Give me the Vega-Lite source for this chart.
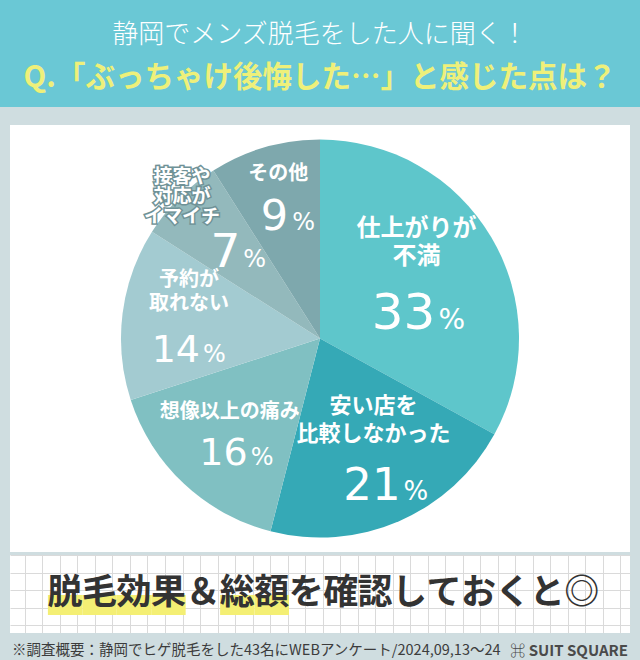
{
  "$schema": "https://vega.github.io/schema/vega-lite/v6.json",
  "background": "#cfdde0",
  "padding": 0,
  "spacing": 11,
  "center": true,
  "config": {"view": {"stroke": null}, "font": "Noto Sans CJK JP"},
  "vconcat": [
    {
      "width": 640,
      "height": 107,
      "view": {"fill": "#6ac8d5", "stroke": null},
      "data": {"values": [{"t1": "静岡でメンズ脱毛をした人に聞く！", "t2": "Q.「ぶっちゃけ後悔した…」と感じた点は？"}]},
      "layer": [
        {"mark": {"type": "text", "font": "Noto Sans CJK JP", "fontSize": 26, "fontWeight": 300, "color": "#ffffff", "baseline": "middle", "dy": -19}, "encoding": {"text": {"field": "t1"}}},
        {"mark": {"type": "text", "font": "Noto Sans CJK JP", "fontSize": 29.5, "fontWeight": "bold", "color": "#eef07a", "baseline": "middle", "dy": 24}, "encoding": {"text": {"field": "t2"}}}
      ]
    },
    {
      "spacing": 0,
      "center": true,
      "vconcat": [
        {
          "width": 620,
          "height": 427,
          "view": {"fill": "#ffffff", "stroke": null},
          "data": {"values": [
            {"order": 1, "label": "仕上がりが\n不満", "value": 33},
            {"order": 2, "label": "安い店を\n比較しなかった", "value": 21},
            {"order": 3, "label": "想像以上の痛み", "value": 16},
            {"order": 4, "label": "予約が\n取れない", "value": 14},
            {"order": 5, "label": "接客や\n対応が\nイマイチ", "value": 7},
            {"order": 6, "label": "その他", "value": 9}
          ]},
          "encoding": {
            "theta": {"field": "value", "type": "quantitative", "stack": true},
            "order": {"field": "order", "type": "quantitative"}
          },
          "layer": [
            {"mark": {"type": "arc", "radius": 199}, "encoding": {"color": {"field": "order", "type": "ordinal", "scale": {"domain": [1, 2, 3, 4, 5, 6], "range": ["#5ec6cb", "#35a9b6", "#80c0c2", "#a3cbd1", "#93b9bc", "#7ea8ad"]}, "legend": null}}},

            {"mark": {"type": "text", "radius": 112, "baseline": "bottom", "dy": -40, "lineBreak": "\n", "lineHeight": 28, "fontSize": 24, "fontWeight": "bold", "color": "#ffffff", "font": "Noto Sans CJK JP"}, "encoding": {"text": {"field": "label"}, "opacity": {"condition": {"test": "datum.order == 1", "value": 1}, "value": 0}}},
            {"mark": {"type": "text", "radius": 112, "baseline": "alphabetic", "align": "right", "dx": 19, "dy": 48, "fontSize": 50, "font": "DejaVu Sans", "color": "#ffffff"}, "encoding": {"text": {"field": "value", "type": "quantitative"}, "opacity": {"condition": {"test": "datum.order == 1", "value": 1}, "value": 0}}},
            {"mark": {"type": "text", "radius": 112, "baseline": "alphabetic", "align": "left", "dx": 22, "dy": 48, "fontSize": 28, "font": "DejaVu Sans", "color": "#ffffff"}, "encoding": {"text": {"value": "%"}, "opacity": {"condition": {"test": "datum.order == 1", "value": 1}, "value": 0}}},

            {"mark": {"type": "text", "radius": 135, "baseline": "bottom", "dy": -44, "lineBreak": "\n", "lineHeight": 28, "fontSize": 22, "fontWeight": "bold", "color": "#ffffff", "font": "Noto Sans CJK JP"}, "encoding": {"text": {"field": "label"}, "opacity": {"condition": {"test": "datum.order == 2", "value": 1}, "value": 0}}},
            {"mark": {"type": "text", "radius": 135, "baseline": "alphabetic", "align": "right", "dx": 27, "dy": 38, "fontSize": 45, "font": "DejaVu Sans", "color": "#ffffff"}, "encoding": {"text": {"field": "value", "type": "quantitative"}, "opacity": {"condition": {"test": "datum.order == 2", "value": 1}, "value": 0}}},
            {"mark": {"type": "text", "radius": 135, "baseline": "alphabetic", "align": "left", "dx": 30, "dy": 38, "fontSize": 26, "font": "DejaVu Sans", "color": "#ffffff"}, "encoding": {"text": {"value": "%"}, "opacity": {"condition": {"test": "datum.order == 2", "value": 1}, "value": 0}}},

            {"mark": {"type": "text", "radius": 132, "baseline": "bottom", "dy": -13, "lineBreak": "\n", "lineHeight": 25, "fontSize": 20, "fontWeight": "bold", "color": "#ffffff", "font": "Noto Sans CJK JP"}, "encoding": {"text": {"field": "label"}, "opacity": {"condition": {"test": "datum.order == 3", "value": 1}, "value": 0}}},
            {"mark": {"type": "text", "radius": 132, "baseline": "alphabetic", "align": "right", "dx": 18, "dy": 30, "fontSize": 38, "font": "DejaVu Sans", "color": "#ffffff"}, "encoding": {"text": {"field": "value", "type": "quantitative"}, "opacity": {"condition": {"test": "datum.order == 3", "value": 1}, "value": 0}}},
            {"mark": {"type": "text", "radius": 132, "baseline": "alphabetic", "align": "left", "dx": 21, "dy": 30, "fontSize": 24, "font": "DejaVu Sans", "color": "#ffffff"}, "encoding": {"text": {"value": "%"}, "opacity": {"condition": {"test": "datum.order == 3", "value": 1}, "value": 0}}},

            {"mark": {"type": "text", "radius": 132, "baseline": "bottom", "dy": -32, "lineBreak": "\n", "lineHeight": 24, "fontSize": 20, "fontWeight": "bold", "color": "#ffffff", "font": "Noto Sans CJK JP"}, "encoding": {"text": {"field": "label"}, "opacity": {"condition": {"test": "datum.order == 4", "value": 1}, "value": 0}}},
            {"mark": {"type": "text", "radius": 132, "baseline": "alphabetic", "align": "right", "dx": 11, "dy": 40, "fontSize": 38, "font": "DejaVu Sans", "color": "#ffffff"}, "encoding": {"text": {"field": "value", "type": "quantitative"}, "opacity": {"condition": {"test": "datum.order == 4", "value": 1}, "value": 0}}},
            {"mark": {"type": "text", "radius": 132, "baseline": "alphabetic", "align": "left", "dx": 14, "dy": 40, "fontSize": 24, "font": "DejaVu Sans", "color": "#ffffff"}, "encoding": {"text": {"value": "%"}, "opacity": {"condition": {"test": "datum.order == 4", "value": 1}, "value": 0}}},

            {"mark": {"type": "text", "radius": 195, "baseline": "middle", "dy": -24, "lineBreak": "\n", "lineHeight": 20, "fontSize": 19, "fontWeight": "bold", "color": "#ffffff", "stroke": "#6f9297", "strokeWidth": 3, "font": "Noto Sans CJK JP"}, "encoding": {"text": {"field": "label"}, "opacity": {"condition": {"test": "datum.order == 5", "value": 1}, "value": 0}}},
            {"mark": {"type": "text", "radius": 195, "baseline": "middle", "dy": -24, "lineBreak": "\n", "lineHeight": 20, "fontSize": 19, "fontWeight": "bold", "color": "#ffffff", "font": "Noto Sans CJK JP"}, "encoding": {"text": {"field": "label"}, "opacity": {"condition": {"test": "datum.order == 5", "value": 1}, "value": 0}}},
            {"mark": {"type": "text", "radius": 148, "baseline": "alphabetic", "align": "right", "dx": 25, "dy": 33, "fontSize": 47, "font": "DejaVu Sans", "color": "#ffffff"}, "encoding": {"text": {"field": "value", "type": "quantitative"}, "opacity": {"condition": {"test": "datum.order == 5", "value": 1}, "value": 0}}},
            {"mark": {"type": "text", "radius": 148, "baseline": "alphabetic", "align": "left", "dx": 28, "dy": 33, "fontSize": 24, "font": "DejaVu Sans", "color": "#ffffff"}, "encoding": {"text": {"value": "%"}, "opacity": {"condition": {"test": "datum.order == 5", "value": 1}, "value": 0}}},

            {"mark": {"type": "text", "radius": 150, "baseline": "bottom", "dy": -10, "lineBreak": "\n", "lineHeight": 25, "fontSize": 20, "fontWeight": "bold", "color": "#ffffff", "font": "Noto Sans CJK JP"}, "encoding": {"text": {"field": "label"}, "opacity": {"condition": {"test": "datum.order == 6", "value": 1}, "value": 0}}},
            {"mark": {"type": "text", "radius": 150, "baseline": "alphabetic", "align": "right", "dx": 10, "dy": 36, "fontSize": 43, "font": "DejaVu Sans", "color": "#ffffff"}, "encoding": {"text": {"field": "value", "type": "quantitative"}, "opacity": {"condition": {"test": "datum.order == 6", "value": 1}, "value": 0}}},
            {"mark": {"type": "text", "radius": 150, "baseline": "alphabetic", "align": "left", "dx": 14, "dy": 36, "fontSize": 24, "font": "DejaVu Sans", "color": "#ffffff"}, "encoding": {"text": {"value": "%"}, "opacity": {"condition": {"test": "datum.order == 6", "value": 1}, "value": 0}}}
          ]
        },
        {
          "width": 620,
          "height": 78,
          "view": {"fill": "#ffffff", "stroke": null},
          "data": {"values": [
            {"i": 0, "ch": "脱", "hl": true},
            {"i": 1, "ch": "毛", "hl": true},
            {"i": 2, "ch": "効", "hl": true},
            {"i": 3, "ch": "果", "hl": true},
            {"i": 4, "ch": "＆", "hl": false},
            {"i": 5, "ch": "総", "hl": true},
            {"i": 6, "ch": "額", "hl": true},
            {"i": 7, "ch": "を", "hl": false},
            {"i": 8, "ch": "確", "hl": false},
            {"i": 9, "ch": "認", "hl": false},
            {"i": 10, "ch": "し", "hl": false},
            {"i": 11, "ch": "て", "hl": false},
            {"i": 12, "ch": "お", "hl": false},
            {"i": 13, "ch": "く", "hl": false},
            {"i": 14, "ch": "と", "hl": false},
            {"i": 15, "ch": "◎", "hl": false}
          ]},
          "resolve": {"scale": {"x": "independent", "y": "independent"}, "axis": {"x": "independent", "y": "independent"}},
          "layer": [
            {
              "transform": [{"filter": "datum.i <= 4"}],
              "mark": {"type": "point", "opacity": 0},
              "encoding": {
                "x": {"field": "i", "type": "quantitative", "scale": {"domain": [-0.857, 34.571], "nice": false, "zero": false}, "axis": {"values": [0,1,2,3,4,5,6,7,8,9,10,11,12,13,14,15,16,17,18,19,20,21,22,23,24,25,26,27,28,29,30,31,32,33,34], "grid": true, "gridColor": "#dadada", "gridWidth": 1, "gridOpacity": 1, "labels": false, "ticks": false, "domain": false, "title": null}},
                "y": {"field": "i", "type": "quantitative", "scale": {"domain": [-0.457, 4], "nice": false, "zero": false}, "axis": {"values": [0,1,2,3,4], "grid": true, "gridColor": "#dadada", "gridWidth": 1, "gridOpacity": 1, "labels": false, "ticks": false, "domain": false, "title": null}}
              }
            },
            {
              "layer": [
                {
                  "transform": [{"filter": "datum.hl"}],
                  "mark": {"type": "bar", "color": "#f4ef74"},
                  "encoding": {
                    "x": {"field": "i", "type": "ordinal", "scale": {"type": "band", "domain": [0,1,2,3,4,5,6,7,8,9,10,11,12,13,14,15], "paddingInner": 0, "paddingOuter": 1.42, "align": 0.55}, "axis": null},
                    "y": {"datum": 0.57, "type": "quantitative", "scale": {"domain": [-0.457, 4], "nice": false, "zero": false}, "axis": null},
                    "y2": {"datum": 1.71}
                  }
                },
                {
                  "mark": {"type": "text", "font": "Noto Sans CJK JP", "fontSize": 35, "fontWeight": "bold", "color": "#333333", "baseline": "middle"},
                  "encoding": {
                    "x": {"field": "i", "type": "ordinal", "scale": {"type": "band", "domain": [0,1,2,3,4,5,6,7,8,9,10,11,12,13,14,15], "paddingInner": 0, "paddingOuter": 1.42, "align": 0.55}, "axis": null},
                    "y": {"datum": 1.83, "type": "quantitative", "scale": {"domain": [-0.457, 4], "nice": false, "zero": false}, "axis": null},
                    "text": {"field": "ch"}
                  }
                }
              ]
            }
          ]
        },
        {
          "width": 640,
          "height": 37,
          "view": {"fill": "#cfdde0", "stroke": null},
          "layer": [
            {
              "data": {"values": [{"side": "L", "t": "※調査概要：静岡でヒゲ脱毛をした43名にWEBアンケート/2024,09,13～24"}]},
              "mark": {"type": "text", "align": "left", "baseline": "middle", "font": "Noto Sans CJK JP", "fontSize": 14.5, "color": "#3c3c3c", "dy": -1},
              "encoding": {"x": {"field": "side", "type": "nominal", "scale": {"type": "point", "domain": ["L", "R"], "padding": 0.0195}, "axis": null}, "text": {"field": "t"}}
            },
            {
              "data": {"values": [{"side": "R", "t": "⌘ SUIT SQUARE"}]},
              "mark": {"type": "text", "align": "right", "baseline": "middle", "font": "Noto Sans CJK JP", "fontSize": 15, "fontWeight": "bold", "color": "#4a4a4a", "dy": -1},
              "encoding": {"x": {"field": "side", "type": "nominal", "scale": {"type": "point", "domain": ["L", "R"], "padding": 0.0195}, "axis": null}, "text": {"field": "t"}}
            }
          ]
        }
      ]
    }
  ]
}
